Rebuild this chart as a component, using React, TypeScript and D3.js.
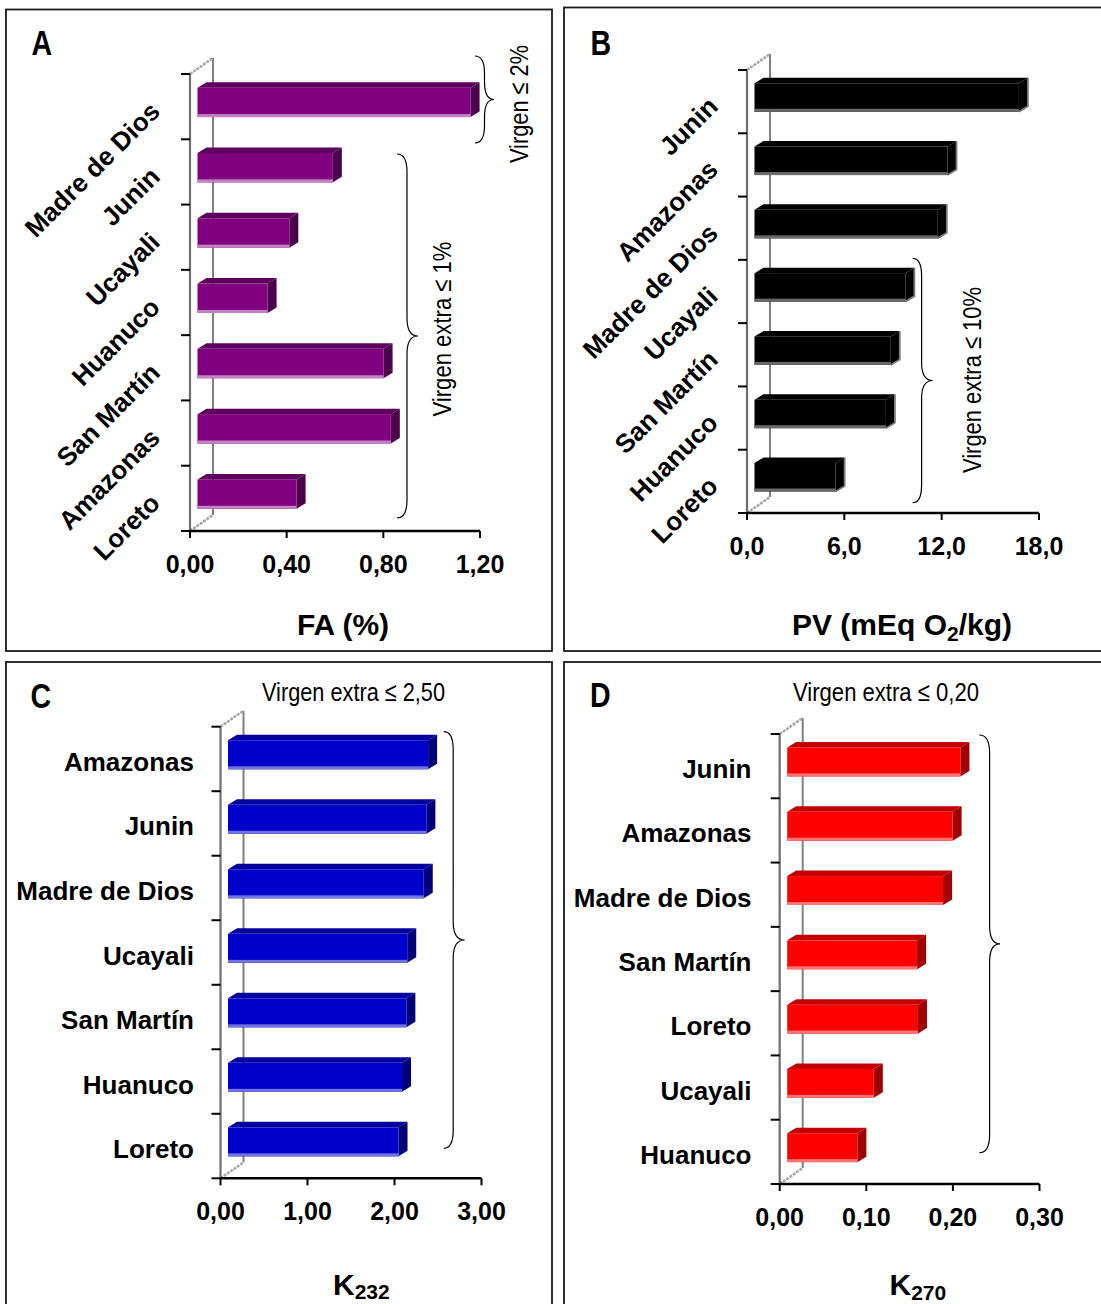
import React from 'react';
import * as d3 from 'd3';

// ---------- DATA ----------
const faCategories = ['Madre de Dios', 'Junin', 'Ucayali', 'Huanuco', 'San Martín', 'Amazonas', 'Loreto'];
const faValues = [1.13, 0.56, 0.38, 0.29, 0.77, 0.80, 0.41];
const faTicks = [0, 0.4, 0.8, 1.2];

const pvCategories = ['Junin', 'Amazonas', 'Madre de Dios', 'Ucayali', 'San Martín', 'Huanuco', 'Loreto'];
const pvValues = [16.3, 11.9, 11.3, 9.3, 8.4, 8.1, 5.0];
const pvTicks = [0, 6, 12, 18];

const k232Categories = ['Amazonas', 'Junin', 'Madre de Dios', 'Ucayali', 'San Martín', 'Huanuco', 'Loreto'];
const k232Values = [2.30, 2.28, 2.25, 2.06, 2.05, 2.00, 1.96];
const k232Ticks = [0, 1, 2, 3];

const k270Categories = ['Junin', 'Amazonas', 'Madre de Dios', 'San Martín', 'Loreto', 'Ucayali', 'Huanuco'];
const k270Values = [0.200, 0.191, 0.180, 0.150, 0.151, 0.100, 0.081];
const k270Ticks = [0, 0.1, 0.2, 0.3];

// ---------- STYLE ----------
const BOLD = "'Liberation Sans', Arial, Helvetica, sans-serif";
const NARROW = "'Liberation Sans Narrow', 'Arial Narrow', 'Liberation Sans', Arial, sans-serif";
const DEPTH_X = 23;
const DEPTH_Y = -16;
const BAR_DX = 9;
const BAR_DY = -5.5;
const BAR_SHIFT = 7.5;

type Colors = { front: string; top: string; side: string; strip: string; edge?: string };

type Brace = { x0: number; xs: number; xt: number; y0: number; y1: number };
type VText = { text: string; x: number; y: number; len: number };

type PanelCfg = {
  letter: string;
  letterX: number;
  letterY: number;
  box: [number, number, number, number];
  x0: number;
  x1: number;
  yTop: number;
  yBot: number;
  max: number;
  ticks: number[];
  decimals: number;
  categories: string[];
  values: number[];
  colors: Colors;
  labelMode: 'rot' | 'horiz';
  labelX: number;
  braces: Brace[];
  vtexts: VText[];
  header?: { text: string; x: number; y: number; len: number };
  title: React.ReactNode;
};

const bracePath = (b: Brace) => {
  const ym = (b.y0 + b.y1) / 2;
  const r = Math.min(18, (b.y1 - b.y0) / 5);
  return `M${b.x0},${b.y0} Q${b.xs},${b.y0} ${b.xs},${b.y0 + r} L${b.xs},${ym - r} Q${b.xs},${ym} ${b.xt},${ym} Q${b.xs},${ym} ${b.xs},${ym + r} L${b.xs},${b.y1 - r} Q${b.xs},${b.y1} ${b.x0},${b.y1}`;
};

function Panel({ cfg }: { cfg: PanelCfg }) {
  const x = d3.scaleLinear().domain([0, cfg.max]).range([cfg.x0, cfg.x1]);
  const y = d3.scaleBand<string>().domain(cfg.categories).range([cfg.yTop, cfg.yBot]).padding(0);
  const bw = y.bandwidth();
  const fmt = (v: number) => v.toFixed(cfg.decimals).replace('.', ',');
  const bx = cfg.x0 + DEPTH_X;
  const c = cfg.colors;

  return (
    <g>
      <rect x={cfg.box[0]} y={cfg.box[1]} width={cfg.box[2]} height={cfg.box[3]} fill="none" stroke="#1a1a1a" strokeWidth={1.8} />
      <text
        transform={`translate(${cfg.letterX}, ${cfg.letterY}) scale(0.84, 1.04)`}
        fontFamily={BOLD}
        fontWeight="bold"
        fontSize={34}
      >
        {cfg.letter}
      </text>

      {/* 3D walls */}
      <line x1={bx} y1={cfg.yTop + DEPTH_Y} x2={bx} y2={cfg.yBot + DEPTH_Y} stroke="#808080" strokeWidth={2} />
      <line x1={cfg.x0} y1={cfg.yTop} x2={bx} y2={cfg.yTop + DEPTH_Y} stroke="#a6a6a6" strokeWidth={2.5} strokeDasharray="3,1" />
      <line x1={cfg.x0} y1={cfg.yBot} x2={bx} y2={cfg.yBot + DEPTH_Y} stroke="#a6a6a6" strokeWidth={2.5} strokeDasharray="3,1" />
      <line x1={cfg.x0} y1={cfg.yTop} x2={cfg.x0} y2={cfg.yBot} stroke="#6e6e6e" strokeWidth={2.2} />

      {/* y ticks */}
      {d3.range(cfg.categories.length + 1).map((i) => (
        <line key={'yt' + i} x1={cfg.x0 - 9} x2={cfg.x0} y1={cfg.yTop + i * bw} y2={cfg.yTop + i * bw} stroke="#000" strokeWidth={2} />
      ))}

      {/* bars */}
      {cfg.categories.map((cat, i) => {
        const v = cfg.values[i];
        const fl = x(0) + BAR_SHIFT;
        const fr = x(v) + BAR_SHIFT;
        const ft = (y(cat) as number) + 0.21 * bw;
        const fb = (y(cat) as number) + 0.66 * bw;
        const top = `${fl},${ft} ${fl + BAR_DX},${ft + BAR_DY} ${fr + BAR_DX},${ft + BAR_DY} ${fr},${ft}`;
        const side = `${fr},${ft} ${fr + BAR_DX},${ft + BAR_DY} ${fr + BAR_DX},${fb + BAR_DY} ${fr},${fb}`;
        return (
          <g key={'bar' + i}>
            <polygon points={top} fill={c.top} />
            <polygon points={side} fill={c.side} />
            <rect x={fl} y={ft} width={fr - fl} height={fb - ft} fill={c.front} />
            <rect x={fl} y={fb - 3} width={fr - fl} height={3} fill={c.strip} />
            {c.edge && (
              <polyline
                points={`${fr + BAR_DX},${ft + BAR_DY} ${fr + BAR_DX},${fb + BAR_DY} ${fr},${fb}`}
                fill="none"
                stroke={c.edge}
                strokeWidth={1.8}
              />
            )}
          </g>
        );
      })}

      {/* x axis */}
      <line x1={cfg.x0} x2={cfg.x1} y1={cfg.yBot} y2={cfg.yBot} stroke="#000" strokeWidth={2.5} />
      {cfg.ticks.map((t) => (
        <g key={'xt' + t}>
          <line x1={x(t)} x2={x(t)} y1={cfg.yBot} y2={cfg.yBot + 7} stroke="#000" strokeWidth={2} />
          <text x={x(t)} y={cfg.yBot + 41.5} textAnchor="middle" fontFamily={BOLD} fontWeight="bold" fontSize={25}>
            {fmt(t)}
          </text>
        </g>
      ))}

      {/* category labels */}
      {cfg.categories.map((cat, i) => {
        const yc = (y(cat) as number) + bw / 2;
        if (cfg.labelMode === 'rot') {
          return (
            <text
              key={'lab' + i}
              x={cfg.labelX}
              y={yc}
              dy="0.35em"
              textAnchor="end"
              transform={`rotate(-45, ${cfg.labelX}, ${yc})`}
              fontFamily={BOLD}
              fontWeight="bold"
              fontSize={26}
            >
              {cat}
            </text>
          );
        }
        return (
          <text key={'lab' + i} x={cfg.labelX} y={yc + 12} textAnchor="end" fontFamily={BOLD} fontWeight="bold" fontSize={26}>
            {cat}
          </text>
        );
      })}

      {/* annotations */}
      {cfg.braces.map((b, i) => (
        <path key={'br' + i} d={bracePath(b)} fill="none" stroke="#000" strokeWidth={1.2} />
      ))}
      {cfg.vtexts.map((t, i) => (
        <text
          key={'vt' + i}
          x={t.x}
          y={t.y}
          textAnchor="middle"
          transform={`rotate(-90, ${t.x}, ${t.y})`}
          fontFamily={NARROW}
          fontSize={26.5}
          textLength={t.len}
          lengthAdjust="spacingAndGlyphs"
        >
          {t.text}
        </text>
      ))}
      {cfg.header && (
        <text
          x={cfg.header.x}
          y={cfg.header.y}
          textAnchor="middle"
          fontFamily={NARROW}
          fontSize={26.5}
          textLength={cfg.header.len}
          lengthAdjust="spacingAndGlyphs"
        >
          {cfg.header.text}
        </text>
      )}
      {cfg.title}
    </g>
  );
}

const panels: PanelCfg[] = [
  {
    letter: 'A',
    letterX: 31.5,
    letterY: 55,
    box: [6, 9.5, 546, 641.5],
    x0: 190,
    x1: 480,
    yTop: 74,
    yBot: 531,
    max: 1.2,
    ticks: faTicks,
    decimals: 2,
    categories: faCategories,
    values: faValues,
    colors: { front: '#800080', top: '#5e005e', side: '#4a004a', strip: '#c283c2' },
    labelMode: 'rot',
    labelX: 155,
    braces: [
      { x0: 475, xs: 484.5, xt: 494, y0: 56, y1: 143 },
      { x0: 397, xs: 407, xt: 418, y0: 154, y1: 518 },
    ],
    vtexts: [
      { text: 'Virgen ≤ 2%', x: 527.5, y: 104, len: 118 },
      { text: 'Virgen extra ≤ 1%', x: 451, y: 329, len: 175 },
    ],
    title: (
      <text x={343} y={635} textAnchor="middle" fontFamily={BOLD} fontWeight="bold" fontSize={30}>
        FA (%)
      </text>
    ),
  },
  {
    letter: 'B',
    letterX: 590.5,
    letterY: 55,
    box: [564, 7.5, 540, 643.5],
    x0: 747,
    x1: 1039,
    yTop: 70,
    yBot: 513,
    max: 18,
    ticks: pvTicks,
    decimals: 1,
    categories: pvCategories,
    values: pvValues,
    colors: { front: '#000000', top: '#000000', side: '#000000', strip: '#6a6a6a', edge: '#7a7a7a' },
    labelMode: 'rot',
    labelX: 713,
    braces: [{ x0: 912.7, xs: 921.6, xt: 932.7, y0: 258.3, y1: 502.7 }],
    vtexts: [{ text: 'Virgen extra ≤ 10%', x: 981, y: 380, len: 186 }],
    title: (
      <text x={902} y={635} textAnchor="middle" fontFamily={BOLD} fontWeight="bold" fontSize={30}>
        PV (mEq O
        <tspan fontSize={21} dy={6}>2</tspan>
        <tspan dy={-6}>/kg)</tspan>
      </text>
    ),
  },
  {
    letter: 'C',
    letterX: 30.5,
    letterY: 708,
    box: [6, 662, 546, 660],
    x0: 220.5,
    x1: 481.5,
    yTop: 726.7,
    yBot: 1178.3,
    max: 3,
    ticks: k232Ticks,
    decimals: 2,
    categories: k232Categories,
    values: k232Values,
    colors: { front: '#0000cc', top: '#00009c', side: '#00007a', strip: '#7373de' },
    labelMode: 'horiz',
    labelX: 194,
    braces: [{ x0: 443.7, xs: 453.2, xt: 464.7, y0: 731.7, y1: 1148.3 }],
    vtexts: [],
    header: { text: 'Virgen extra ≤ 2,50', x: 353.5, y: 700.5, len: 183 },
    title: (
      <text x={333} y={1295} fontFamily={BOLD} fontWeight="bold" fontSize={30}>
        K<tspan fontSize={21} dy={4}>232</tspan>
      </text>
    ),
  },
  {
    letter: 'D',
    letterX: 590,
    letterY: 707,
    box: [564, 662, 540, 660],
    x0: 779.7,
    x1: 1039.5,
    yTop: 734,
    yBot: 1184,
    max: 0.3,
    ticks: k270Ticks,
    decimals: 2,
    categories: k270Categories,
    values: k270Values,
    colors: { front: '#ff0000', top: '#c20000', side: '#a00000', strip: '#ff7575' },
    labelMode: 'horiz',
    labelX: 751.5,
    braces: [{ x0: 979.3, xs: 989.6, xt: 1000, y0: 735, y1: 1152.7 }],
    vtexts: [],
    header: { text: 'Virgen extra ≤ 0,20', x: 886, y: 700.5, len: 186 },
    title: (
      <text x={889.5} y={1295} fontFamily={BOLD} fontWeight="bold" fontSize={30}>
        K<tspan fontSize={21} dy={5}>270</tspan>
      </text>
    ),
  },
];

export default function App() {
  return (
    <svg
      width={1101}
      height={1304}
      viewBox="0 0 1101 1304"
      style={{ position: 'absolute', left: 0, top: 0, background: '#fff' }}
    >
      <rect x={0} y={0} width={1101} height={1304} fill="#fff" />
      {panels.map((p) => (
        <Panel key={p.letter} cfg={p} />
      ))}
    </svg>
  );
}
